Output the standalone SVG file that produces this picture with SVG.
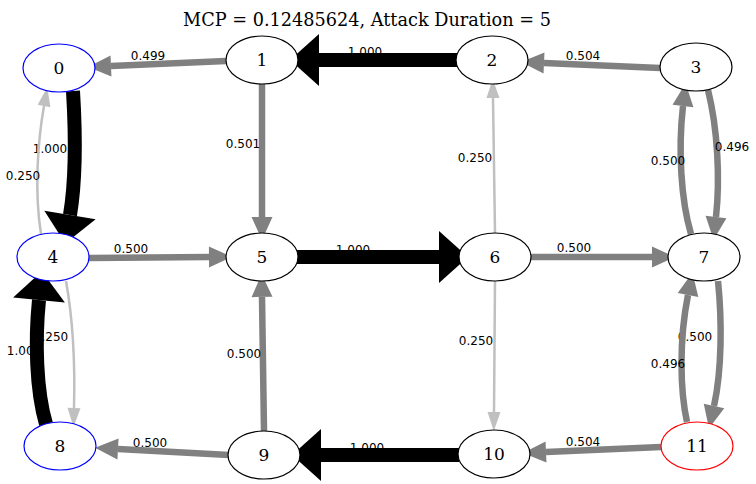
<svg xmlns="http://www.w3.org/2000/svg" width="756" height="484" viewBox="0 0 756 484">
<defs>
<style>
.node ellipse{fill:#fff;stroke:#000;stroke-width:1.2}
.node.blue ellipse{stroke:#0000ff}
.node.red ellipse{stroke:#ff0000}
.node text{font-family:"DejaVu Serif",serif;font-size:17px;text-anchor:middle;fill:#000}
.title{font-family:"DejaVu Serif",serif;font-size:17.7px;text-anchor:middle;fill:#000}
.lbl text{font-family:"DejaVu Sans",sans-serif;font-size:12px;text-anchor:middle;fill:#000}
.e{fill:none}
.k{stroke:#000;stroke-width:14;marker-end:url(#ak)}
.g{stroke:#808080;stroke-width:6.5;marker-end:url(#ag)}
.l{stroke:#c0c0c0;stroke-width:2.5;marker-end:url(#al)}
</style>
<marker id="ak" markerUnits="userSpaceOnUse" viewBox="0 -27 30 54" refX="0" refY="0" markerWidth="30" markerHeight="54" orient="auto" overflow="visible"><path d="M0,-26L29,0L0,26z" fill="#000"/></marker>
<marker id="ag" markerUnits="userSpaceOnUse" viewBox="0 -11 24 22" refX="0" refY="0" markerWidth="24" markerHeight="22" orient="auto" overflow="visible"><path d="M0,-10.5L23,0L0,10.5z" fill="#808080"/></marker>
<marker id="al" markerUnits="userSpaceOnUse" viewBox="0 -7 20 14" refX="0" refY="0" markerWidth="20" markerHeight="14" orient="auto" overflow="visible"><path d="M0,-6.5L19,0L0,6.5z" fill="#c0c0c0"/></marker>
</defs>
<rect width="756" height="484" fill="#fff"/>
<text class="title" x="367" y="26">MCP = 0.12485624, Attack Duration = 5</text>
<g id="edge-labels-under" class="lbl">
<text x="365" y="56">1.000</text>
<text x="50" y="153">1.000</text>
<text x="353" y="254">1.000</text>
<text x="24" y="355">1.000</text>
<text x="51" y="341">0.250</text>
<text x="367" y="452">1.000</text>
<text x="695" y="341">0.500</text>
</g>
<g id="connectors">
<path id="e1-0" class="e g" d="M226,61L111,66"/>
<path id="e2-1" class="e k" d="M457,60L319,60"/>
<path id="e3-2" class="e g" d="M660,68L544,63"/>
<path id="e0-4" class="e k" d="M73,91C76,140 75,185 70,215"/>
<path id="e4-0" class="e l" d="M41,234C34,190 38,140 44,106"/>
<path id="e1-5" class="e g" d="M262,84L262,217"/>
<path id="e6-2" class="e l" d="M495,233L493,98"/>
<path id="e3-7" class="e g" d="M708,90C718,130 720,180 716,217"/>
<path id="e7-3" class="e g" d="M691,234C681,200 678,150 683,106"/>
<path id="e4-5" class="e g" d="M89,258L209,257"/>
<path id="e5-6" class="e k" d="M297,257L439,257"/>
<path id="e6-7" class="e g" d="M531,257L652,257"/>
<path id="e8-4" class="e k" d="M46,424C36,390 35,340 39,300"/>
<path id="e4-8" class="e l" d="M66,281C73,320 75,370 74,408"/>
<path id="e9-5" class="e g" d="M264,431L262,297"/>
<path id="e9-8" class="e g" d="M229,455L118,449"/>
<path id="e10-9" class="e k" d="M459,455L321,455"/>
<path id="e6-10" class="e l" d="M495,281L494,412"/>
<path id="e11-10" class="e g" d="M661,447L546,452"/>
<path id="e7-11" class="e g" d="M718,281C722,320 722,370 714,406"/>
<path id="e11-7" class="e g" d="M687,422C680,390 679,340 688,295"/>
</g>
<g id="edge-labels" class="lbl">
<text x="148" y="60">0.499</text>
<text x="583" y="60">0.504</text>
<text x="23" y="180">0.250</text>
<text x="243" y="148">0.501</text>
<text x="475" y="162">0.250</text>
<text x="668" y="165">0.500</text>
<text x="732" y="151">0.496</text>
<text x="131" y="253">0.500</text>
<text x="574" y="252">0.500</text>
<text x="244" y="358">0.500</text>
<text x="150" y="447">0.500</text>
<text x="476" y="345">0.250</text>
<text x="583" y="446">0.504</text>
<text x="668" y="368">0.496</text>
</g>
<g id="n0" class="node blue"><ellipse cx="59" cy="68" rx="36" ry="24"/><text x="59" y="74">0</text></g>
<g id="n1" class="node"><ellipse cx="262" cy="60" rx="36" ry="24"/><text x="262" y="66">1</text></g>
<g id="n2" class="node"><ellipse cx="492" cy="60" rx="36" ry="24"/><text x="492" y="66">2</text></g>
<g id="n3" class="node"><ellipse cx="696" cy="67" rx="36" ry="24"/><text x="696" y="73">3</text></g>
<g id="n4" class="node blue"><ellipse cx="53" cy="257" rx="36" ry="24"/><text x="53" y="263">4</text></g>
<g id="n5" class="node"><ellipse cx="262" cy="257" rx="36" ry="24"/><text x="262" y="263">5</text></g>
<g id="n6" class="node"><ellipse cx="495" cy="257" rx="36" ry="24"/><text x="495" y="263">6</text></g>
<g id="n7" class="node"><ellipse cx="704" cy="257" rx="36" ry="24"/><text x="704" y="263">7</text></g>
<g id="n8" class="node blue"><ellipse cx="60" cy="446" rx="36" ry="24"/><text x="60" y="452">8</text></g>
<g id="n9" class="node"><ellipse cx="264" cy="455" rx="36" ry="24"/><text x="264" y="461">9</text></g>
<g id="n10" class="node"><ellipse cx="494" cy="454" rx="36" ry="24"/><text x="494" y="460">10</text></g>
<g id="n11" class="node red"><ellipse cx="697" cy="446" rx="36" ry="24"/><text x="697" y="452">11</text></g>
</svg>
